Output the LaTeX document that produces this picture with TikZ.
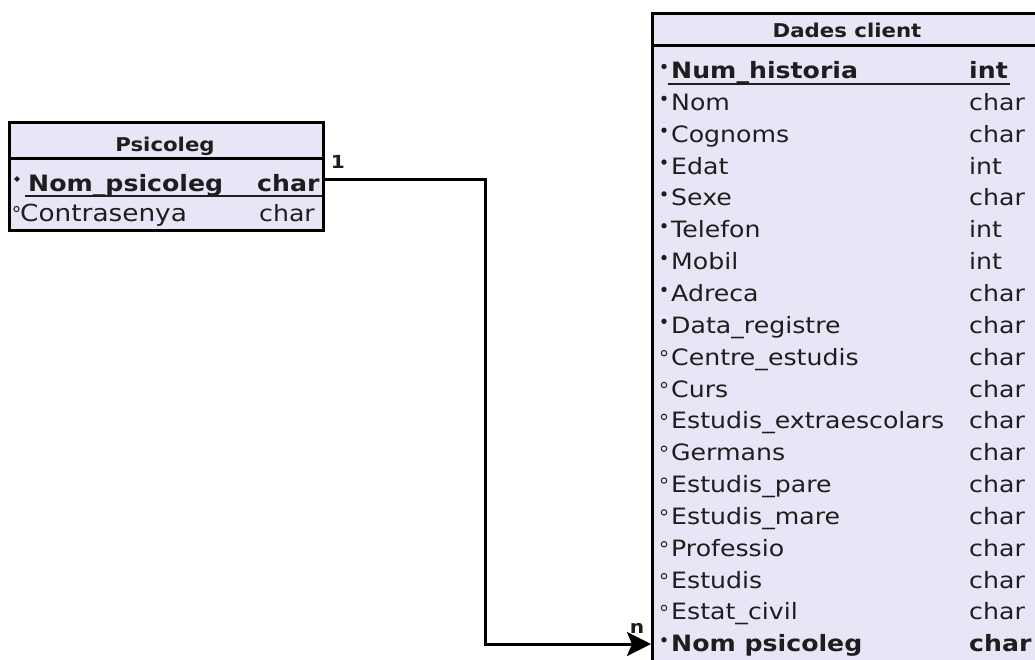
\documentclass[tikz,border=0pt]{standalone}
\usepackage{fontspec}
\setmainfont{DejaVu Sans}[FakeStretch=1.12]
\usetikzlibrary{arrows.meta}

\definecolor{tabfill}{RGB}{230,230,246}
\definecolor{ink}{RGB}{30,30,30}

\begin{document}
\begin{tikzpicture}[x=1pt,y=-1pt,
  frame/.style={draw=black, line width=3pt, fill=tabfill, inner sep=0pt, anchor=north west},
  sepline/.style={draw=black, line width=3pt},
  tabtitle/.style={font=\fontsize{19}{19}\selectfont\bfseries, text=ink, anchor=base, inner sep=0pt},
  field/.style={font=\fontsize{22.5}{22.5}\selectfont, text=ink, anchor=base west, inner sep=0pt},
  keyfield/.style={font=\fontsize{22.5}{22.5}\selectfont\bfseries, text=ink, anchor=base west, inner sep=0pt},
  req/.style={fill=ink},
  opt/.style={draw=ink, line width=1pt, fill=tabfill},
  uline/.style={draw=ink, line width=2pt},
  card/.style={font=\fontsize{18}{18}\selectfont\bfseries, text=ink, inner sep=0pt},
  conn/.style={draw=black, line width=3pt, -{Stealth[length=24pt,width=24pt,inset=5pt]}}
]
% canvas
\path[use as bounding box, clip] (0,0) rectangle (1035,659);
\fill[white] (0,0) rectangle (1035,659);

% ---------- table Psicoleg ----------
\node[frame, minimum width=314pt, minimum height=108pt] (psi) at (8,121) {};
\draw[sepline] (psi.west |- 0,158) -- (psi.east |- 0,158);
\node[tabtitle] (psititle) at (165,151) {Psicoleg};
\node[keyfield] (pn1) at (28,191) {Nom\_psicoleg};
\node[keyfield] (pt1) at (257,191) {char};
\node[field, font=\fontsize{23.5}{23.5}\selectfont] (pn2) at (20,221) {Contrasenya};
\node[field] (pt2) at (259,221) {char};
\fill[ink] (17,176) -- (19.8,179) -- (17,182) -- (14.2,179) -- cycle;
\path[opt] (16.5,209) circle (2.6);
\draw[uline] ([xshift=-3pt,yshift=-5pt]pn1.base west) -- ([xshift=2pt,yshift=-5pt]pt1.base east);

% ---------- table Dades client ----------
\node[frame, minimum width=392pt, minimum height=700pt] (dades) at (651,12) {};
\draw[sepline] (dades.west |- 0,45) -- (dades.east |- 0,45);
\node[tabtitle] (dtitle) at (847,37) {Dades client};

\foreach \i/\nm/\ty/\st/\mk in {
  1/Num\_historia/int/keyfield/req,
  2/Nom/char/field/req,
  3/Cognoms/char/field/req,
  4/Edat/int/field/req,
  5/Sexe/char/field/req,
  6/Telefon/int/field/req,
  7/Mobil/int/field/req,
  8/Adreca/char/field/req,
  9/Data\_registre/char/field/req,
  10/Centre\_estudis/char/field/opt,
  11/Curs/char/field/opt,
  12/Estudis\_extraescolars/char/field/opt,
  13/Germans/char/field/opt,
  14/Estudis\_pare/char/field/opt,
  15/Estudis\_mare/char/field/opt,
  16/Professio/char/field/opt,
  17/Estudis/char/field/opt,
  18/Estat\_civil/char/field/opt,
  19/Nom psicoleg/char/keyfield/req}{
  \pgfmathsetmacro{\yb}{78.5+31.85*(\i-1)}
  \node[\st] (dn\i) at (671,\yb) {\nm};
  \node[\st] (dt\i) at (969,\yb) {\ty};
  \path[\mk] (664,{\yb-12}) circle (2.7);
}
\draw[uline] ([xshift=-3pt,yshift=-5pt]dn1.base west) -- ([xshift=2pt,yshift=-5pt]dt1.base east);

% ---------- relationship ----------
\coordinate (bend) at (485,179);
\coordinate (tgt) at (651,644);
\draw[conn] (psi.east |- bend) -- (bend) |- (dades.west |- tgt);
\node[card] (one) at (338,162) {1};
\node[card] (many) at (637,628) {n};
\end{tikzpicture}
\end{document}
